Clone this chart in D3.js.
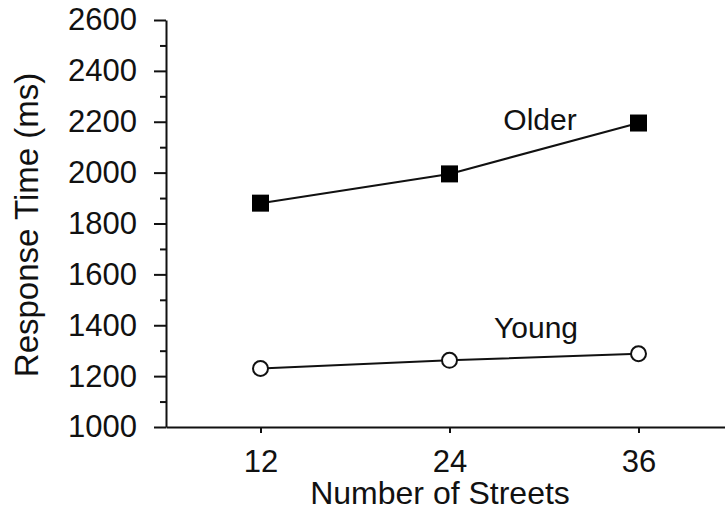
<!DOCTYPE html>
<html>
<head>
<meta charset="utf-8">
<script src="https://cdn.jsdelivr.net/npm/d3@7"></script>
<style>
  html, body { margin: 0; padding: 0; background: #fff; }
  svg { display: block; }
  text { font-family: "Liberation Sans", Arial, Helvetica, sans-serif; fill: #111; }
</style>
</head>
<body>
<svg id="chart" width="725" height="515"></svg>
<script>
// Mean response time by number of streets, for two age groups
const streets = [12, 24, 36];
const olderRT = [1880, 1995, 2195];
const youngRT = [1230, 1262, 1288];
const yMajorTicks = [1000, 1200, 1400, 1600, 1800, 2000, 2200, 2400, 2600];
const yMinorTicks = [1100, 1300, 1500, 1700, 1900, 2100, 2300, 2500];
const xTicks = [12, 24, 36];

const svg = d3.select("#chart");

const x = d3.scaleLinear().domain([6, 42]).range([166, 733]);
const y = d3.scaleLinear().domain([1000, 2600]).range([427, 20]);

const FS = 31;

// Y axis: major ticks with labels
const yAxis = svg.append("g")
  .attr("transform", `translate(${x(6)},0)`)
  .call(d3.axisLeft(y).tickValues(yMajorTicks).tickSize(12).tickSizeOuter(0)
        .tickPadding(17).tickFormat(d3.format("d")));
// minor ticks
const yMinor = svg.append("g")
  .attr("transform", `translate(${x(6)},0)`)
  .call(d3.axisLeft(y).tickValues(yMinorTicks).tickSize(6).tickFormat(""));
yMinor.select(".domain").remove();

// X axis
const xAxis = svg.append("g")
  .attr("transform", `translate(0,${y(1000)})`)
  .call(d3.axisBottom(x).tickValues(xTicks).tickSize(6).tickSizeOuter(0).tickPadding(17));

[yAxis, yMinor, xAxis].forEach(g => {
  g.selectAll("path, line").attr("stroke", "#111").attr("stroke-width", 2);
  g.selectAll("text").style("font-size", FS + "px")
    .style("font-family", '"Liberation Sans", Arial, sans-serif').attr("fill", "#111");
});

// Axis titles
svg.append("text")
  .attr("x", 440)
  .attr("y", 504)
  .attr("text-anchor", "middle")
  .style("font-size", "32px")
  .text("Number of Streets");

svg.append("text")
  .attr("transform", `translate(38,${225}) rotate(-90)`)
  .attr("text-anchor", "middle")
  .style("font-size", "33px")
  .text("Response Time (ms)");

const line = d3.line().x((d, i) => x(streets[i])).y(d => y(d));

// Older group: filled squares
svg.append("path")
  .datum(olderRT)
  .attr("d", line)
  .attr("fill", "none")
  .attr("stroke", "#111")
  .attr("stroke-width", 2);

const sq = 17;
svg.selectAll("rect.older")
  .data(olderRT)
  .join("rect")
  .attr("class", "older")
  .attr("x", (d, i) => x(streets[i]) - sq / 2)
  .attr("y", d => y(d) - sq / 2)
  .attr("width", sq)
  .attr("height", sq)
  .attr("fill", "#000");

// Young group: open circles
svg.append("path")
  .datum(youngRT)
  .attr("d", line)
  .attr("fill", "none")
  .attr("stroke", "#111")
  .attr("stroke-width", 2);

svg.selectAll("circle.young")
  .data(youngRT)
  .join("circle")
  .attr("class", "young")
  .attr("cx", (d, i) => x(streets[i]))
  .attr("cy", d => y(d))
  .attr("r", 7.5)
  .attr("fill", "#fff")
  .attr("stroke", "#111")
  .attr("stroke-width", 2);

// Series labels
svg.append("text")
  .attr("x", 540).attr("y", 130)
  .attr("text-anchor", "middle")
  .style("font-size", "30px")
  .text("Older");

svg.append("text")
  .attr("x", 536).attr("y", 338)
  .attr("text-anchor", "middle")
  .style("font-size", "30px")
  .text("Young");
</script>
</body>
</html>
